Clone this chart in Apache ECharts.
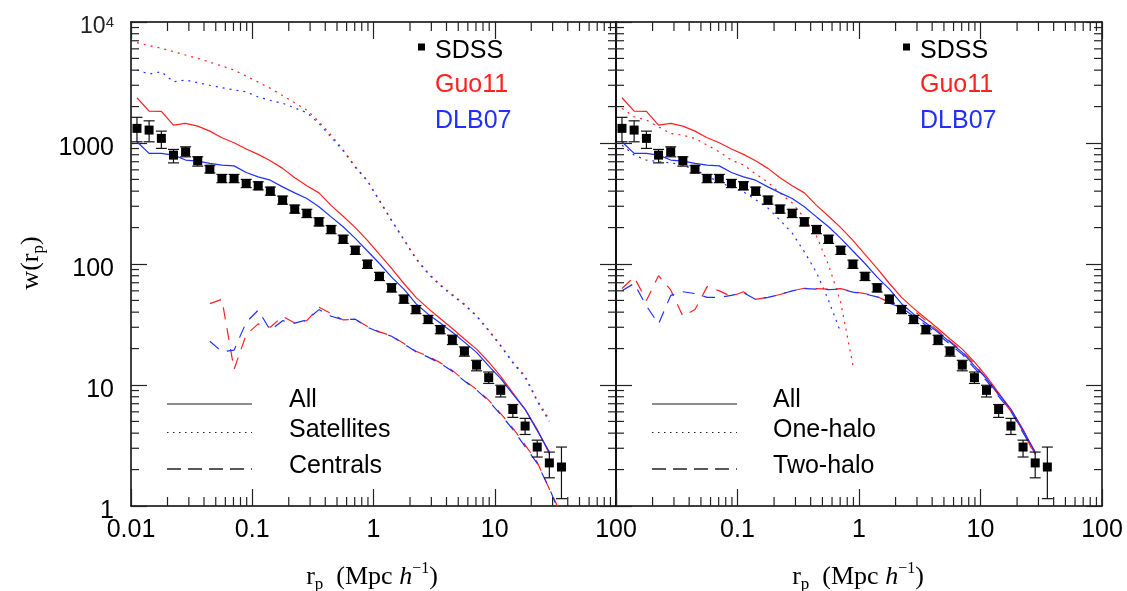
<!DOCTYPE html>
<html><head><meta charset="utf-8">
<script src="https://cdn.jsdelivr.net/npm/echarts@6/dist/echarts.min.js"></script>
<style>html,body{margin:0;padding:0;background:#fff}#c{width:1127px;height:591px}</style>
</head><body><div id="c"></div>
<script>
// ---------------- data ----------------
const rp = [0.0112,0.0141,0.0178,0.0224,0.0282,0.0355,0.0447,0.0562,0.0708,0.0891,0.112,0.141,0.178,0.224,0.282,0.355,0.447,0.562,0.708,0.891,1.12,1.41,1.78,2.24,2.82,3.55,4.47,5.62,7.08,8.91,11.2,14.1,17.8,22.4,28.2,35.5];

const sdssW  = [1321,1279,1092,794,846,713,608,509,509,463,443,400,337,284,262,223,193,160,130,99.6,79,63.5,51.2,42,34.8,28.7,23.7,19.0,14.6,11.5,9.03,6.27,4.58,3.07,2.27,2.1];
const sdssHi = [1630,1525,1253,885,930,769,650,550,550,500,478,432,364,307,283,241,208,173,140,107.5,85.3,68.6,55.3,45.4,37.6,31,25.8,20.6,16,12.8,9.95,6.9,5.3,3.5,2.79,3.07];
const sdssLo = [1023,1023,902,685,769,644,565,470,470,428,410,370,312,263,242,206,178,148,120,92,73,58.7,47.4,38.9,32.2,26.5,21.6,17.3,13.1,10.3,7.96,5.4,3.9,2.54,1.71,1.15];

// "All" (both panels)
const guoAll = [2366,1836,1825,1406,1452,1380,1253,1104,1005,891,805,713,617,516,443,387,305,248,200,157,120,92,69,53,43,35.5,29.3,24,19.8,15.5,11.8,8.6,6.3,4.3,2.7,null];
const dlbAll = [1023,820,820,794,723,708,678,656,647,571,525,493,434,387,348,297,245,203,163,128,101,78,62,47,38.5,32.5,27.3,22.6,18.6,14.4,11.3,8.4,6.3,4.2,2.8,null];

// Left panel: satellites / centrals
const guoSat = [6745,6383,6060,5690,5333,5010,4656,4325,4010,3573,3184,2830,2466,2148,1871,1500,1160,880,640,490,337,231,160,112,84.5,67.6,56,46.7,37.5,28.5,21.3,15.5,11.9,7.5,5.2,null];
const dlbSat = [4010,3715,3880,3210,3310,3150,3000,2865,2750,2650,2400,2250,2130,1950,1780,1450,1120,860,630,485,332,228,158,110,83,66.5,55,46,37,28,21,15.2,11.6,7.3,5.0,null];
const guoCen = [null,null,null,null,null,null,47,51,13.5,26,32,30,37,32.5,34,44,39,34.5,35,30.5,27.5,25.5,22,19,17.3,15.3,13.2,10.9,9.2,7.5,5.8,4.4,3.2,2.3,1.38,0.85];
const dlbCen = [null,null,null,null,null,null,23,18.8,19.4,33,41.5,28.3,34,32.5,34.5,42,37,34.7,35,30,27.3,25.3,21.8,18.8,17,15.1,13,10.8,9.1,7.4,5.7,4.3,3.1,2.25,1.4,0.8];

// Right panel: one-halo / two-halo
const guo1h = [1933,1648,1546,1361,1200,1161,1091,961,846,722,660,555,475,385,320,240,170,98,48,14.6,null,null,null,null,null,null,null,null,null,null,null,null,null,null,null,null];
const dlb1h = [960,794,722,700,687,656,600,535,475,430,395,340,290,230,180,126,85,50,27,null,null,null,null,null,null,null,null,null,null,null,null,null,null,null,null,null];
const guo2h = [62.7,78,50,80,61,37,42,65,60,54,59,51,53,56,60,63,62.5,62,62.5,59,57,54,48,44,41.3,34,28.1,23,19,14.9,11.3,8.25,6.05,4.13,2.6,null];
const dlb2h = [60,69,45,32,55,59,57,53,53,55,58,51,53,56,60,62.5,62,61.5,62,58.5,56.5,53.5,47.5,43.5,37,31.2,26.2,21.7,17.9,13.8,10.85,8.05,6.05,4.03,2.7,null];

// minor tick positions
const xMinor = [0.02,0.03,0.04,0.05,0.06,0.07,0.08,0.09,0.2,0.3,0.4,0.5,0.6,0.7,0.8,0.9,2,3,4,5,6,7,8,9,20,30,40,50,60,70,80,90];
const yMinor = [2,3,4,5,6,7,8,9,20,30,40,50,60,70,80,90,200,300,400,500,600,700,800,900,2000,3000,4000,5000,6000,7000,8000,9000];

// ---------------- chart ----------------
const SANS = "'Liberation Sans', Arial, Helvetica, sans-serif";
const SERIF = "'Liberation Serif', 'Times New Roman', serif";
const RED = '#ff2020', BLUE = '#2030ff';
const chart = echarts.init(document.getElementById('c'));

function pts(ys){ return rp.map((x,i)=>[x, ys[i]]).filter(d=>d[1]!=null); }

function xAx(grid, pos, showLabel, hideMin){
  return {type:'log', logBase:10, gridIndex:grid, position:pos, min:0.01, max:100,
    axisLine:{show:true, onZero:false, lineStyle:{color:'#000', width:1.5}},
    axisTick:{show:true, inside:true, length:17, lineStyle:{color:'#222', width:1.2}},
    splitLine:{show:false},
    axisLabel:{show:showLabel, margin:12, fontSize:25, fontFamily:SANS, color:'#000',
      formatter:v=>{ if(hideMin && v<0.011) return ''; return String(Number(Number(v).toPrecision(1))); }}
  };
}
function yAx(grid, pos, showLabel){
  return {type:'log', logBase:10, gridIndex:grid, position:pos, min:1, max:10000,
    axisLine:{show:true, onZero:false, lineStyle:{color:'#000', width:1.5}},
    axisTick:{show:true, inside:true, length:16, lineStyle:{color:'#222', width:1.2}},
    splitLine:{show:false},
    axisLabel:{show:showLabel, margin:17, fontSize:25, fontFamily:SANS, color:'#000', padding:[10,0,0,0],
      formatter:v=> v>9999 ? '{t|10}{s|4}' : String(Math.round(v)),
      rich:{t:{fontSize:23, fontFamily:SANS, color:'#222', lineHeight:24, verticalAlign:'middle'},
            s:{fontSize:15, fontFamily:SANS, color:'#222', lineHeight:14, verticalAlign:'top'}}}
  };
}

function line(xi, ys, color, type, z){
  let t = 'solid';
  if (type==='dot') t = [2,5];
  if (type==='dash') t = [12,9];
  return {type:'line', xAxisIndex:xi, yAxisIndex:xi, data:pts(ys), showSymbol:false, symbol:'none',
    lineStyle:{color:color, width:1.2, type:t, cap:'butt'}, z:z||2, silent:true, clip:true};
}

function sdss(xi){
  return {type:'custom', xAxisIndex:xi, yAxisIndex:xi, z:6, silent:true,
    data: rp.map((x,i)=>[x, sdssW[i], sdssLo[i], sdssHi[i]]),
    renderItem:(params, api)=>{
      const x=api.value(0), y=api.value(1), lo=api.value(2), hi=api.value(3);
      const p=api.coord([x,y]), pl=api.coord([x,lo]), ph=api.coord([x,hi]);
      const st={stroke:'#111', lineWidth:1.2};
      return {type:'group', children:[
        {type:'line', shape:{x1:p[0],y1:pl[1],x2:p[0],y2:ph[1]}, style:st},
        {type:'line', shape:{x1:p[0]-5.5,y1:pl[1],x2:p[0]+5.5,y2:pl[1]}, style:st},
        {type:'line', shape:{x1:p[0]-5.5,y1:ph[1],x2:p[0]+5.5,y2:ph[1]}, style:st},
        {type:'rect', shape:{x:p[0]-4.5,y:p[1]-4.5,width:9,height:9}, style:{fill:'#000'}}
      ]};
    }};
}

function xTicks(xi){
  return {type:'custom', xAxisIndex:xi, yAxisIndex:xi, z:7, silent:true,
    data: xMinor.map(v=>[v,10]),
    renderItem:(params, api)=>{
      const v=api.value(0); const b=api.coord([v,1]); const t=api.coord([v,10000]);
      const st={stroke:'#222', lineWidth:1.2};
      return {type:'group', children:[
        {type:'line', shape:{x1:b[0],y1:b[1],x2:b[0],y2:b[1]-9}, style:st},
        {type:'line', shape:{x1:t[0],y1:t[1],x2:t[0],y2:t[1]+9}, style:st}]};
    }};
}
function yTicks(xi){
  return {type:'custom', xAxisIndex:xi, yAxisIndex:xi, z:7, silent:true,
    data: yMinor.map(v=>[1,v]),
    renderItem:(params, api)=>{
      const v=api.value(1); const l=api.coord([0.01,v]); const r=api.coord([100,v]);
      const st={stroke:'#222', lineWidth:1.2};
      return {type:'group', children:[
        {type:'line', shape:{x1:l[0],y1:l[1],x2:l[0]+8,y2:l[1]}, style:st},
        {type:'line', shape:{x1:r[0],y1:r[1],x2:r[0]-8,y2:r[1]}, style:st}]};
    }};
}

function txt(x,y,s,color,size){
  return {type:'text', x:x, y:y, silent:true, style:{text:s, fill:color||'#000', font:(size||25)+'px '+SANS, align:'left', verticalAlign:'middle'}};
}
function lg(x1,x2,y,stroke,dash,w){
  return {type:'line', silent:true, shape:{x1:x1,y1:y,x2:x2,y2:y}, style:{stroke:stroke, lineWidth:w||1.2, lineDash:dash||null}};
}
const xTitleRich = {
  n:{fontFamily:SERIF, fontSize:26, lineHeight:32, verticalAlign:'middle', fill:'#000'},
  sub:{fontFamily:SERIF, fontSize:17, lineHeight:17, verticalAlign:'bottom', fill:'#000'},
  it:{fontFamily:SERIF, fontSize:26, fontStyle:'italic', lineHeight:32, verticalAlign:'middle', fill:'#000'},
  sup:{fontFamily:SERIF, fontSize:16, lineHeight:17, verticalAlign:'top', fill:'#000'}
};
const xTitle = '{n|r}{sub|p}{n|  (Mpc }{it|h}{sup|−1}{n|)}';

const graphics = [
  // top legends
  {type:'rect', silent:true, shape:{x:418,y:43.5,width:7,height:7}, style:{fill:'#000'}},
  txt(435,51,'SDSS','#000'), txt(435,85,'Guo11',RED), txt(435,121,'DLB07',BLUE),
  {type:'rect', silent:true, shape:{x:903,y:43.5,width:7,height:7}, style:{fill:'#000'}},
  txt(920,51,'SDSS','#000'), txt(920,85,'Guo11',RED), txt(920,121,'DLB07',BLUE),
  // bottom legends left
  lg(167,252,404,'#666',null,1.5), lg(167,252,432.5,'#222',[1.5,4.5],1.2), lg(167,252,469,'#222',[14,7],1.3),
  txt(289,400,'All'), txt(289,430,'Satellites'), txt(289,466,'Centrals'),
  // bottom legends right
  lg(652,737,404,'#666',null,1.5), lg(652,737,432.5,'#222',[1.5,4.5],1.2), lg(652,737,469,'#222',[14,7],1.3),
  txt(773,400,'All'), txt(773,430,'One-halo'), txt(773,466,'Two-halo'),
  // axis titles
  {type:'text', silent:true, x:372, y:577, style:{text:xTitle, rich:xTitleRich, align:'center', verticalAlign:'middle'}},
  {type:'text', silent:true, x:858, y:577, style:{text:xTitle, rich:xTitleRich, align:'center', verticalAlign:'middle'}},
  {type:'text', silent:true, x:31, y:263, rotation:Math.PI/2,
   style:{text:'{n|w(r}{sub|p}{n|)}', rich:xTitleRich, align:'center', verticalAlign:'middle'}}
];

chart.setOption({
  animation:false,
  backgroundColor:'#fff',
  grid:[{left:131, top:22, width:485, height:484},{left:616, top:22, width:486, height:484}],
  xAxis:[xAx(0,'bottom',true,false), xAx(0,'top',false,false), xAx(1,'bottom',true,true), xAx(1,'top',false,false)],
  yAxis:[yAx(0,'left',true), yAx(0,'right',false), yAx(1,'left',false), yAx(1,'right',false)],
  series:[
    line(0, guoSat, RED, 'dot'), line(0, dlbSat, BLUE, 'dot'),
    line(0, guoCen, RED, 'dash'), line(0, dlbCen, BLUE, 'dash'),
    line(0, guoAll, RED, 'solid', 3), line(0, dlbAll, BLUE, 'solid', 3),
    sdss(0), xTicks(0), yTicks(0),
    line(2, guo1h, RED, 'dot'), line(2, dlb1h, BLUE, 'dot'),
    line(2, guo2h, RED, 'dash'), line(2, dlb2h, BLUE, 'dash'),
    line(2, guoAll, RED, 'solid', 3), line(2, dlbAll, BLUE, 'solid', 3),
    sdss(2), xTicks(2), yTicks(2)
  ],
  graphic:graphics
});
</script></body></html>
